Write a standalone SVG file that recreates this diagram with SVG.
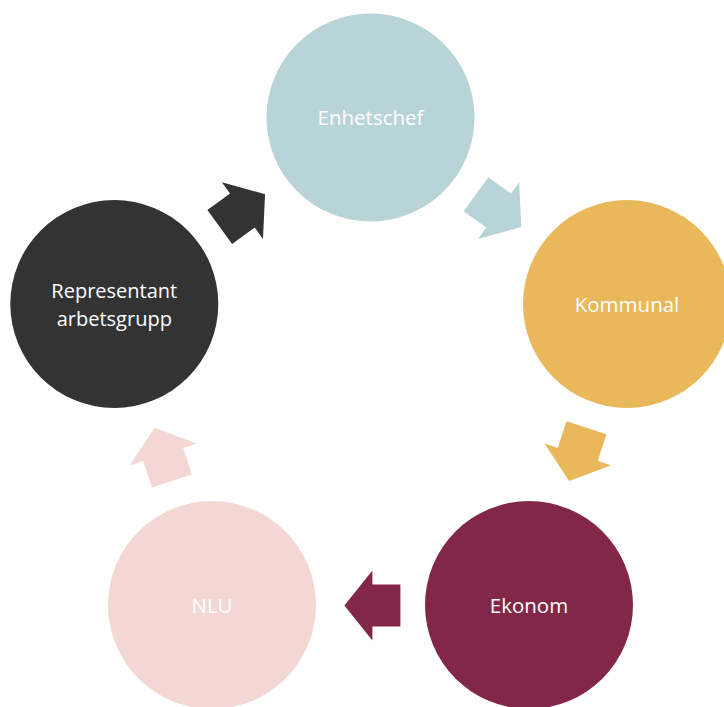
<svg xmlns="http://www.w3.org/2000/svg" width="724" height="707" viewBox="0 0 724 707">
  <style>
    .lbl { font-family: "Open Sans", "Noto Sans", sans-serif; font-size: 20.5px; fill: #ffffff; text-anchor: middle; }
    .sm { font-size: 20px; }
  </style>
  <defs>
    <path id="arrow" d="M-28,-21 H0 V-35 L28,0 L0,35 V21 H-28 Z"/>
  </defs>
  <rect width="724" height="707" fill="#ffffff"/>
  <g id="connectors">
    <use href="#arrow" fill="#B8D4D6" transform="translate(498.6,210.6) rotate(36)"/>
    <use href="#arrow" fill="#E8B85A" transform="translate(577.8,454.4) rotate(108)"/>
    <use href="#arrow" fill="#832748" transform="translate(372.4,605.5) rotate(180)"/>
    <use href="#arrow" fill="#F2D7D3" transform="translate(163.2,454.4) rotate(252)"/>
    <use href="#arrow" fill="#333333" transform="translate(242.4,210.6) rotate(324)"/>
  </g>
  <g id="node-enhetschef">
    <circle cx="370.5" cy="117.5" r="104" fill="#B8D4D6"/>
    <text class="lbl" x="370.5" y="125">Enhetschef</text>
  </g>
  <g id="node-kommunal">
    <circle cx="627" cy="304" r="104" fill="#E8B85A"/>
    <text class="lbl" x="627" y="311.5">Kommunal</text>
  </g>
  <g id="node-ekonom">
    <circle cx="529" cy="605" r="104" fill="#832748"/>
    <text class="lbl" x="529" y="613">Ekonom</text>
  </g>
  <g id="node-nlu">
    <circle cx="212" cy="605" r="104" fill="#F2D7D3"/>
    <text class="lbl" x="212" y="613">NLU</text>
  </g>
  <g id="node-representant">
    <circle cx="114.3" cy="304" r="104" fill="#333333"/>
    <text class="lbl sm" x="114.3" y="298">Representant</text>
    <text class="lbl sm" x="114.3" y="326">arbetsgrupp</text>
  </g>
</svg>
